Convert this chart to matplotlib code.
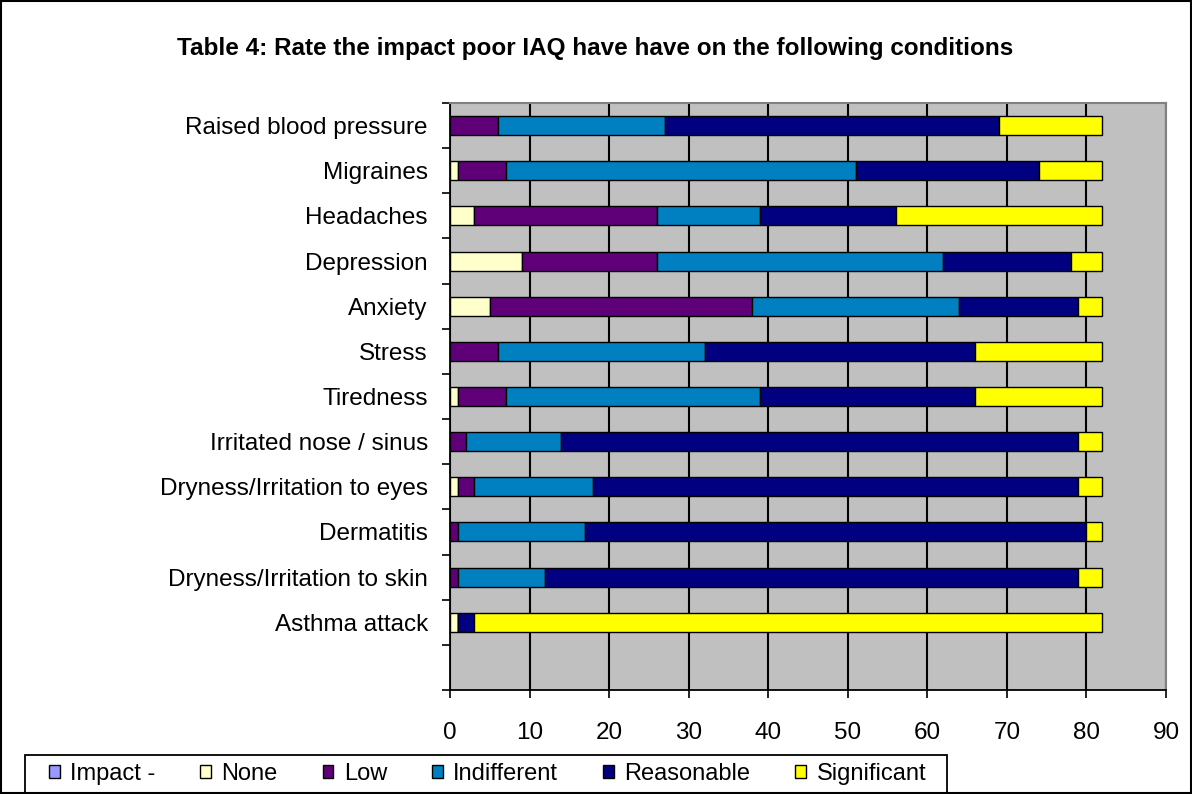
import numpy as np
import matplotlib.pyplot as plt

plt.rcParams['font.family'] = ['Liberation Sans', 'DejaVu Sans']

# categories from top to bottom
conditions = ['Raised blood pressure', 'Migraines', 'Headaches', 'Depression',
              'Anxiety', 'Stress', 'Tiredness', 'Irritated nose / sinus',
              'Dryness/Irritation to eyes', 'Dermatitis',
              'Dryness/Irritation to skin', 'Asthma attack']

impact = [0, 0, 0, 0, 0, 0, 0, 0, 0, 0, 0, 0]
none = [0, 1, 3, 9, 5, 0, 1, 0, 1, 0, 0, 1]
low = [6, 6, 23, 17, 33, 6, 6, 2, 2, 1, 1, 0]
indifferent = [21, 44, 13, 36, 26, 26, 32, 12, 15, 16, 11, 0]
reasonable = [42, 23, 17, 16, 15, 34, 27, 65, 61, 63, 67, 2]
significant = [13, 8, 26, 4, 3, 16, 16, 3, 3, 2, 3, 79]

series_names = ['Impact -', 'None', 'Low', 'Indifferent', 'Reasonable', 'Significant']
series_colors = ['#9999FF', '#FFFFCC', '#5F0078', '#0080C0', '#000080', '#FFFF00']
series = [impact, none, low, indifferent, reasonable, significant]

fig = plt.figure(figsize=(11.92, 7.94), dpi=100)
ax = fig.add_axes([450 / 1192, 104 / 794, 716 / 1192, 587 / 794])
ax.set_facecolor('#C0C0C0')

# one empty slot at the bottom, like the original
ypos = np.arange(len(conditions), 0, -1)
left = np.zeros(len(conditions))
handles = []
for name, vals, col in zip(series_names, series, series_colors):
    vals = np.array(vals, dtype=float)
    b = ax.barh(ypos, vals, left=left, height=0.42, color=col,
                edgecolor='black', linewidth=1.0, label=name, zorder=3)
    left += vals
    handles.append(b)

ax.set_xlim(0, 90)
ax.set_ylim(-0.5, len(conditions) + 0.5)
ax.set_xticks(np.arange(0, 91, 10))
ax.grid(axis='x', color='black', linewidth=1.5, zorder=1)
ax.tick_params(axis='x', direction='out', length=6, width=1.2, pad=17,
               labelsize=17.5)

ax.set_yticks(ypos)
ax.set_yticklabels(conditions)
ax.set_yticks(np.arange(-0.5, len(conditions) + 1, 1), minor=True)
ax.tick_params(axis='y', which='major', length=0, pad=16, labelsize=17.5)
ax.tick_params(axis='y', which='minor', length=6, width=1.2, direction='out')

ax.spines['top'].set_color('#808080')
ax.spines['right'].set_color('#808080')
ax.spines['top'].set_linewidth(1.5)
ax.spines['right'].set_linewidth(1.5)
ax.spines['left'].set_linewidth(1.3)
ax.spines['bottom'].set_linewidth(1.3)

fig.text(0.499, 1 - 48 / 794, 'Table 4: Rate the impact poor IAQ have have on the following conditions',
         ha='center', va='center', fontsize=17.5, fontweight='bold')

leg = fig.legend(handles=handles, labels=series_names, ncol=6,
                 loc='center left', bbox_to_anchor=(49 / 1192, 1 - 774 / 794),
                 frameon=False, fontsize=17, borderpad=0, borderaxespad=0,
                 handlelength=0.45, handleheight=0.45, handletextpad=0.45,
                 columnspacing=1.9)

# legend box (bottom runs off the picture, as in the original)
fig.patches.append(plt.Rectangle((25 / 1192, -0.02), 922 / 1192, 0.02 + 39 / 794,
                                 transform=fig.transFigure, fill=False,
                                 edgecolor='black', linewidth=1.3))

# outer border
fig.patches.append(plt.Rectangle((0.001, 0.001), 0.998, 0.998, transform=fig.transFigure,
                                 fill=False, edgecolor='black', linewidth=1.5))

fig.savefig('out.png', dpi=100)
